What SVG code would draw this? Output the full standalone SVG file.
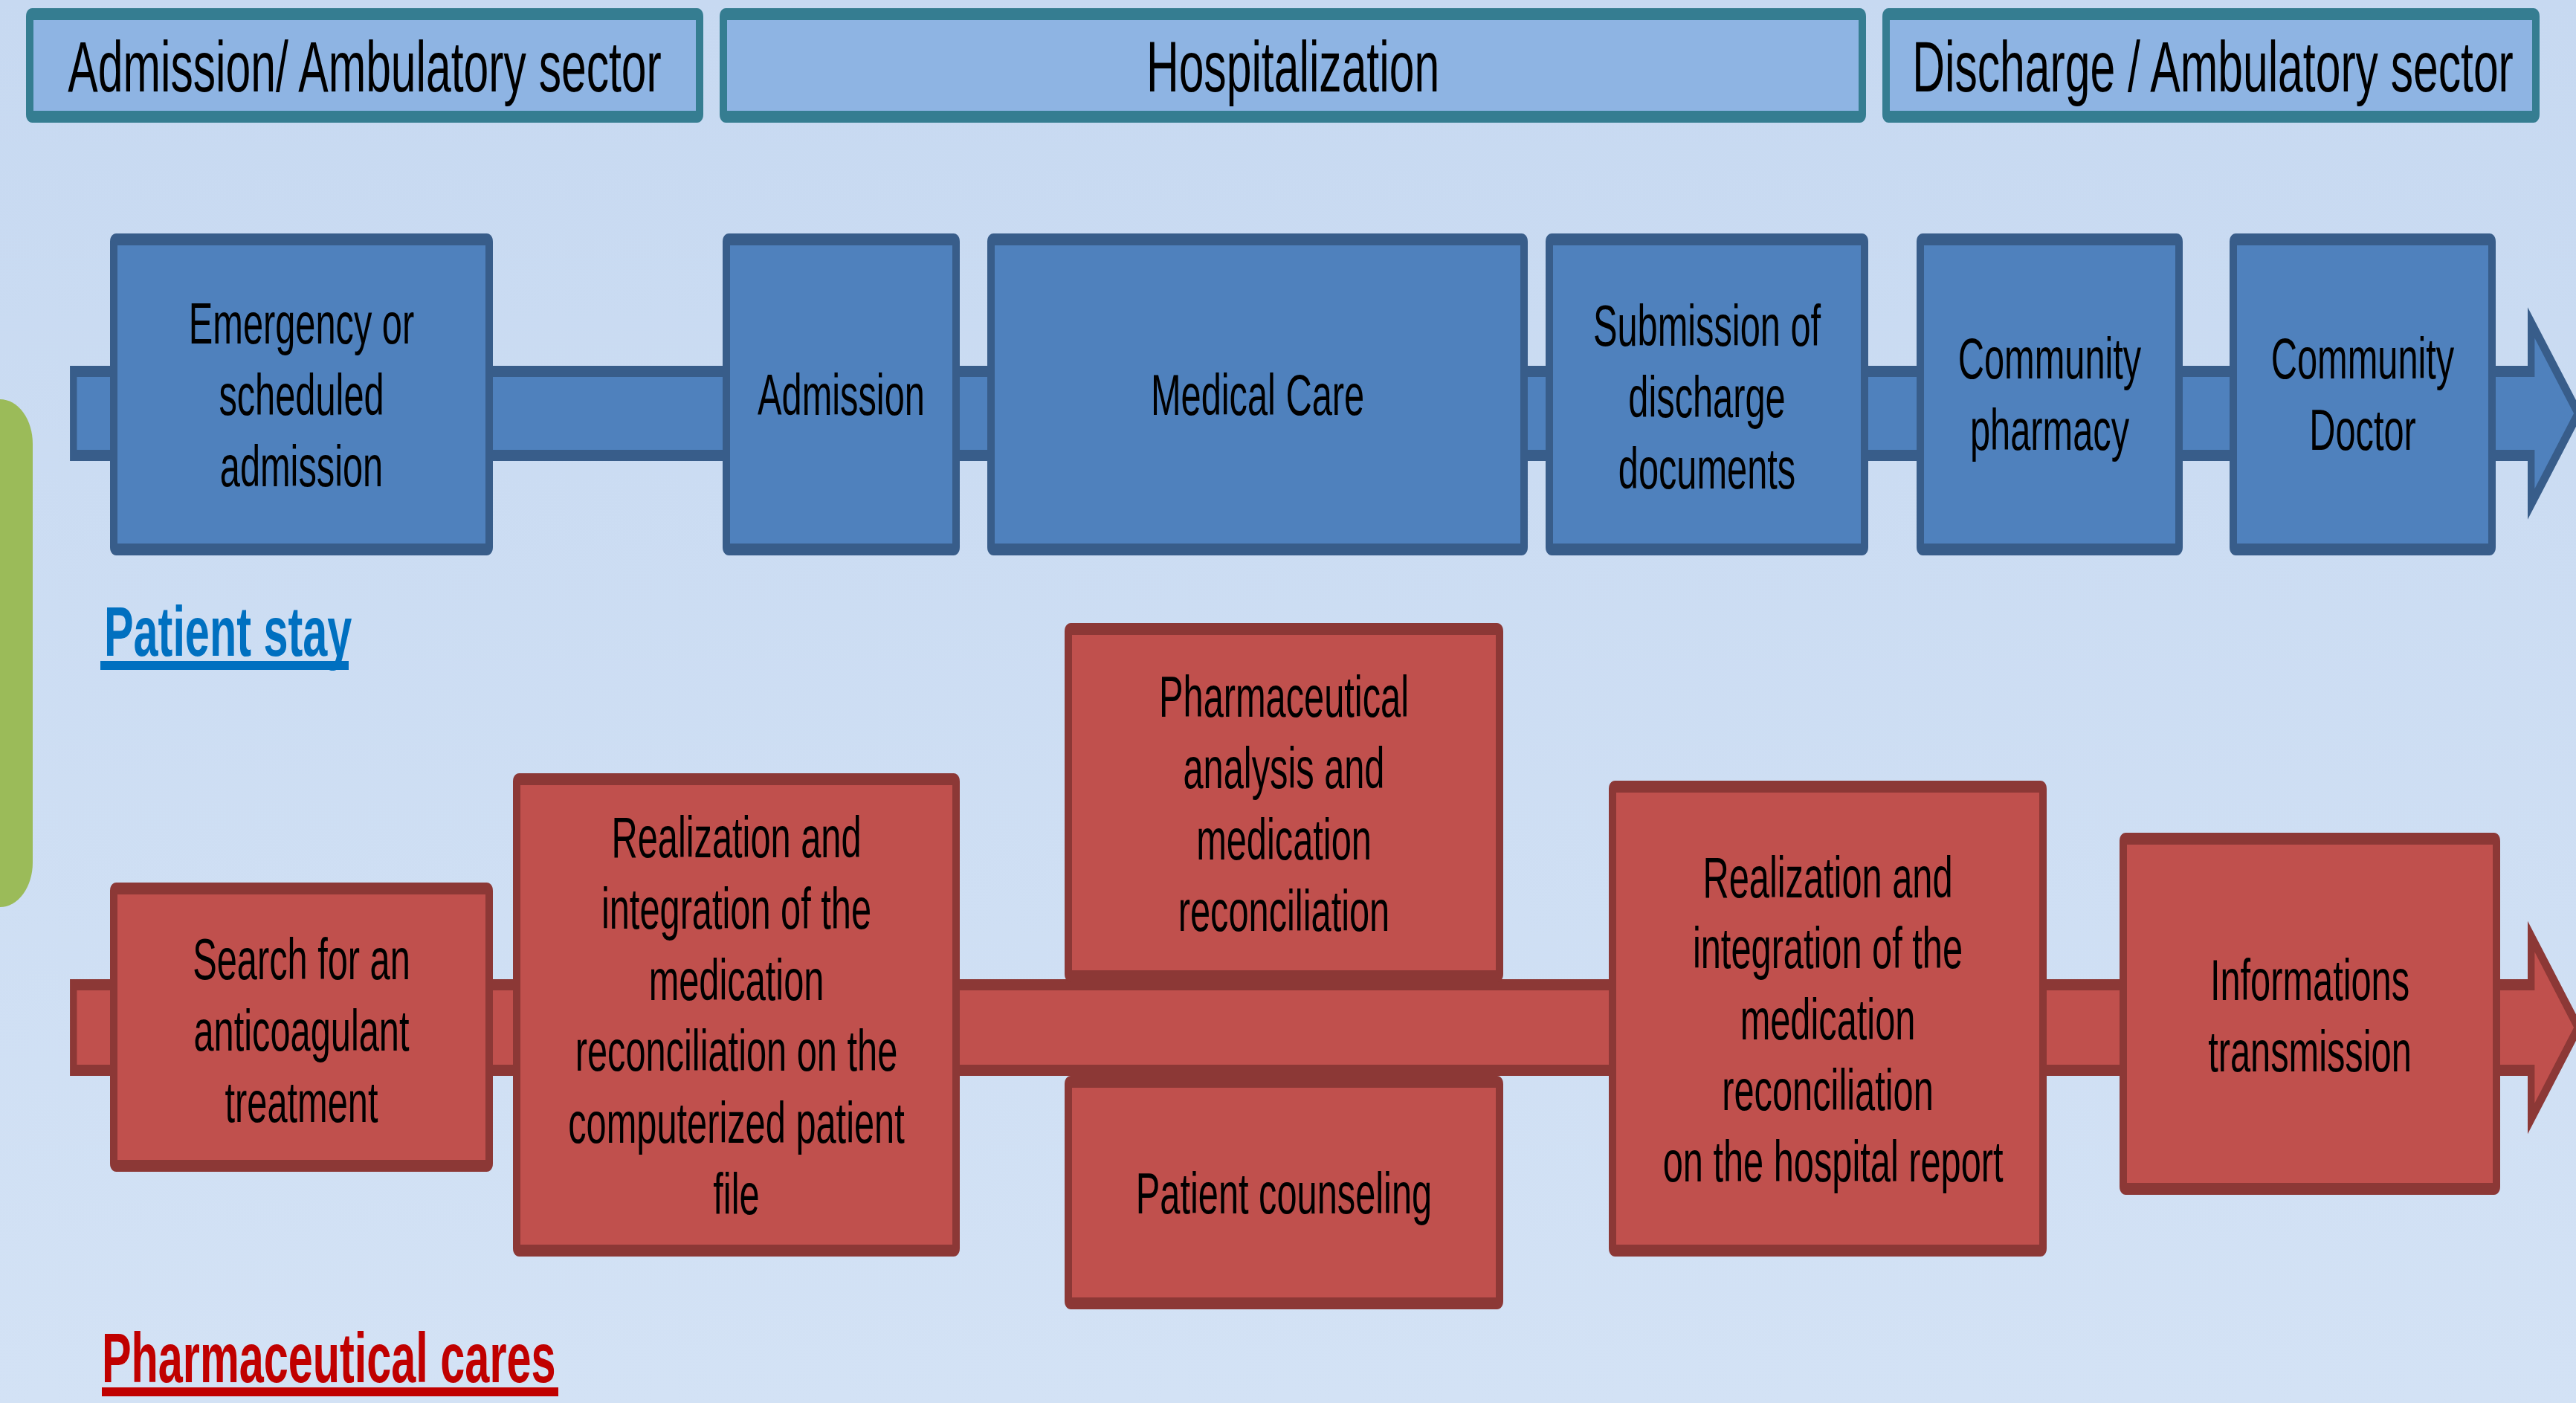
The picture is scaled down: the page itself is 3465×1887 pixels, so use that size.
<svg xmlns="http://www.w3.org/2000/svg" width="3465" height="1887" viewBox="0 0 3465 1887">
<defs>
<linearGradient id="bg" x1="0" y1="0" x2="0" y2="1">
<stop offset="0" stop-color="#C7D9F1"/>
<stop offset="1" stop-color="#D3E2F5"/>
</linearGradient>
<style>
.hdr{fill:#8EB4E3;stroke:#357D91;stroke-width:16}
.blue{fill:#4F81BD;stroke:#385D8A;stroke-width:16}
.red{fill:#C0504D;stroke:#8C3836;stroke-width:16}
.bband{fill:#4F81BD;stroke:#385D8A;stroke-width:15;stroke-linejoin:miter}
.rband{fill:#C0504D;stroke:#8C3836;stroke-width:15;stroke-linejoin:miter}
text{font-family:"Liberation Sans",Arial,sans-serif;fill:#000;text-anchor:middle}
.ht{font-size:97px}
.bt{font-size:78px}
.lbl{font-size:95px;font-weight:bold;text-anchor:start}
</style>
</defs>
<rect x="0" y="0" width="3465" height="1887" fill="url(#bg)"/>
<g transform="scale(0.625 1)">
<rect id="green-tab" x="-100" y="537" width="170.4" height="683" rx="70.4" ry="60" fill="#9BBB59"/>

<g id="header-admission"><rect class="hdr" x="64" y="19" width="1441.6" height="138" rx="5" ry="3"/><text class="ht" x="784.8" y="123">Admission/ Ambulatory sector</text></g>
<g id="header-hospitalization"><rect class="hdr" x="1556.8" y="19" width="2451.2" height="138" rx="5" ry="3"/><text class="ht" x="2782.4" y="123">Hospitalization</text></g>
<g id="header-discharge"><rect class="hdr" x="4059.2" y="19" width="1398.4" height="138" rx="5" ry="3"/><text class="ht" x="4762.4" y="123">Discharge / Ambulatory sector</text></g>

<g id="connectors">
<polygon class="bband" points="158,499.5 5447.5,499.5 5447.5,434 5549,556 5447.5,678 5447.5,612.5 158,612.5"/>
<polygon class="rband" points="158,1324.5 5447.5,1324.5 5447.5,1259.5 5549,1382 5447.5,1504.5 5447.5,1439.5 158,1439.5"/>
</g>

<g id="node-emergency"><rect class="blue" x="244.8" y="322" width="808" height="417" rx="5" ry="3"/><text class="bt"><tspan x="648.8" y="462">Emergency or</tspan><tspan x="648.8" y="558">scheduled</tspan><tspan x="648.8" y="654">admission</tspan></text></g>
<g id="node-admission"><rect class="blue" x="1563.2" y="322" width="494.4" height="417" rx="5" ry="3"/><text class="bt" x="1810.4" y="558">Admission</text></g>
<g id="node-medical-care"><rect class="blue" x="2132.8" y="322" width="1147.2" height="417" rx="5" ry="3"/><text class="bt" x="2706.4" y="558">Medical Care</text></g>
<g id="node-submission"><rect class="blue" x="3334.4" y="322" width="678.4" height="417" rx="5" ry="3"/><text class="bt"><tspan x="3673.6" y="465">Submission of</tspan><tspan x="3673.6" y="561">discharge</tspan><tspan x="3673.6" y="657">documents</tspan></text></g>
<g id="node-community-pharmacy"><rect class="blue" x="4132.8" y="322" width="556.8" height="417" rx="5" ry="3"/><text class="bt"><tspan x="4411.2" y="509">Community</tspan><tspan x="4411.2" y="605">pharmacy</tspan></text></g>
<g id="node-community-doctor"><rect class="blue" x="4806.4" y="322" width="556.8" height="417" rx="5" ry="3"/><text class="bt"><tspan x="5084.8" y="509">Community</tspan><tspan x="5084.8" y="605">Doctor</tspan></text></g>

<g id="node-search"><rect class="red" x="244.8" y="1195" width="808" height="373" rx="5" ry="3"/><text class="bt"><tspan x="648.8" y="1317">Search for an</tspan><tspan x="648.8" y="1413">anticoagulant</tspan><tspan x="648.8" y="1509">treatment</tspan></text></g>
<g id="node-realization-file"><rect class="red" x="1112" y="1048" width="945.6" height="634" rx="5" ry="3"/><text class="bt"><tspan x="1584.8" y="1153">Realization and</tspan><tspan x="1584.8" y="1249">integration of the</tspan><tspan x="1584.8" y="1345">medication</tspan><tspan x="1584.8" y="1440">reconciliation on the</tspan><tspan x="1584.8" y="1537">computerized patient</tspan><tspan x="1584.8" y="1633">file</tspan></text></g>
<g id="node-analysis"><rect class="red" x="2299.2" y="846" width="928" height="467" rx="5" ry="3"/><text class="bt"><tspan x="2763.2" y="964">Pharmaceutical</tspan><tspan x="2763.2" y="1060">analysis and</tspan><tspan x="2763.2" y="1156">medication</tspan><tspan x="2763.2" y="1252">reconciliation</tspan></text></g>
<g id="node-counseling"><rect class="red" x="2299.2" y="1455" width="928" height="298" rx="5" ry="3"/><text class="bt" x="2763.2" y="1632">Patient counseling</text></g>
<g id="node-realization-report"><rect class="red" x="3470.4" y="1058" width="926.4" height="624" rx="5" ry="3"/><text class="bt"><tspan x="3933.6" y="1207">Realization and</tspan><tspan x="3933.6" y="1302">integration of the</tspan><tspan x="3933.6" y="1398">medication</tspan><tspan x="3933.6" y="1493">reconciliation</tspan><tspan x="3945" y="1589">on the hospital report</tspan></text></g>
<g id="node-informations"><rect class="red" x="4569.6" y="1128" width="803.2" height="471" rx="5" ry="3"/><text class="bt"><tspan x="4971.2" y="1345">Informations</tspan><tspan x="4971.2" y="1441">transmission</tspan></text></g>

<g id="label-patient-stay"><text class="lbl" x="224" y="882" style="fill:#0070C0">Patient stay</text><rect x="216" y="889" width="534.4" height="12" fill="#0070C0"/></g>
<g id="label-pharmaceutical-cares"><text class="lbl" x="219.2" y="1859" style="fill:#C00000">Pharmaceutical cares</text><rect x="219.2" y="1866" width="982.4" height="12" fill="#C00000"/></g>
</g>
</svg>
